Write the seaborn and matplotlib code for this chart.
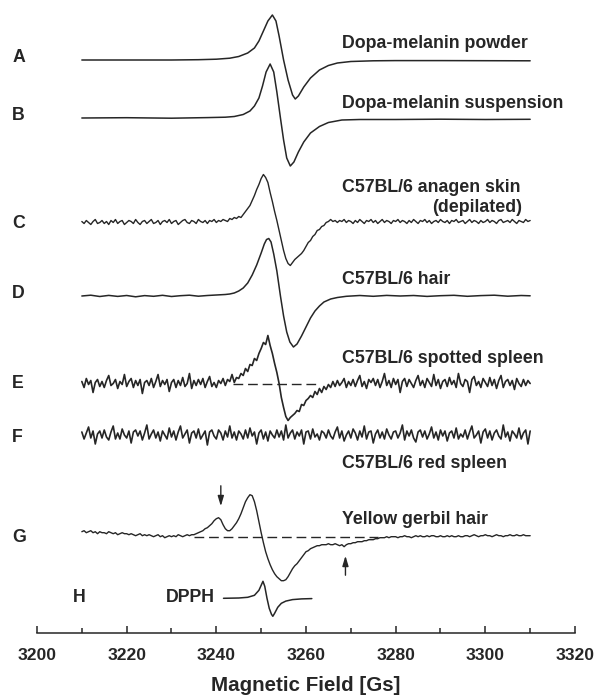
import numpy as np
import matplotlib
matplotlib.use("Agg")
import matplotlib.pyplot as plt
import seaborn as sns

# ---- data (signal amplitudes, arbitrary units) ----
field_start, field_stop = 3210, 3310

a_field = [3210, 3220, 3230, 3236, 3240, 3243, 3245, 3247, 3248.5, 3249.5,
           3250.5, 3251.5, 3252.5, 3253.3, 3254, 3255, 3256, 3257, 3257.6, 3258.3,
           3259.5, 3261, 3263, 3265, 3267, 3270, 3275, 3280, 3290, 3300, 3310]
a_signal = [0, 0, 0, 0.3, 0.8, 1.8, 3.5, 7, 12, 19,
            29, 39, 45, 39, 24, 0, -20, -35, -39, -36,
            -27, -18, -10, -5.5, -3, -1.5, -0.8, -0.6, -0.6, -0.7, -0.8]

b_field = [3210, 3220, 3230, 3238, 3242, 3244, 3246, 3247.5, 3248.5, 3249.5,
           3250.3, 3251.1, 3252, 3252.8, 3253.5, 3254.3, 3255, 3255.7, 3256.5, 3257.3,
           3258.3, 3259.5, 3261, 3263, 3265, 3268, 3272, 3280, 3290, 3300, 3310]
b_signal = [0, 0.3, -0.2, 0.4, 0.8, 1.5, 3.5, 7, 12, 20,
            32, 46, 54, 46, 26, 0, -22, -40, -48, -44,
            -34, -24, -15, -8.5, -4.5, -2, -1.5, -1.5, -1.2, -1.5, -1.3]

# anagen skin, sampled every 0.5 Gs from 3210 to 3310
c_signal = [1, -1, 2, 0, -2, 1, 3, -1, 0, 2,
            -1, 1, -2, 2, 0, 3, -1, 1, 2, -2,
            0, 2, 1, -1, 3, 0, -2, 1, 2, -1,
            1, 3, -1, 0, 2, -2, 1, 2, 0, 3,
            -1, 1, 2, -2, 0, 2, 3, 0, -1, 2,
            1, -1, 3, 1, 0, 2, -1, 2, 1, 3,
            0, 2, 1, 3, 2, 1, 4, 3, 5, 4,
            6, 5, 8, 11, 14, 17, 22, 27, 33, 38,
            44, 48, 45, 40, 30, 21, 11, 2, -8, -18,
            -28, -36, -41, -43, -40, -37, -35, -33, -31, -28,
            -24, -20, -18, -14, -12, -8, -7, -4, -3, 0,
            1, 3, 1, 2, 0, 2, 1, 3, 0, 2,
            1, -1, 2, 0, 3, 1, -1, 2, 1, 3,
            0, 2, -1, 1, 3, 0, 2, 1, -1, 2,
            1, 3, 0, 2, 1, -1, 2, 0, 3, 1,
            -1, 2, 1, 3, 0, 2, -1, 1, 2, 0,
            3, 1, 0, 2, -1, 2, 1, 3, 0, 1,
            2, -1, 1, 3, 0, 2, 1, -1, 2, 0,
            1, 3, 0, 2, 1, -1, 2, 3, 0, 1,
            2, 0, 3, 1, -1, 2, 1, 0, 3, 1,
            2]

d_field = [3210, 3212, 3214, 3216, 3218, 3220, 3222, 3224, 3226, 3228,
           3230, 3232, 3234, 3236, 3238, 3240, 3242, 3243, 3244, 3245,
           3246, 3247, 3248, 3249, 3250, 3250.7, 3251.2, 3251.7, 3252.2, 3252.8,
           3253.5, 3254.3, 3255, 3255.7, 3256.4, 3257.2, 3258, 3259, 3260, 3261,
           3262, 3263, 3264, 3265.5, 3267, 3269, 3272, 3275, 3278, 3281,
           3284, 3287, 3290, 3293, 3296, 3299, 3302, 3305, 3308, 3310]
d_signal = [0, 0.8, -0.5, 0.6, -0.4, 0.5, -0.8, 0.4, -0.3, 0.7,
            -0.5, 0.3, 0.8, -0.2, 0.5, 1, 1.5, 2, 3, 5,
            8, 13, 21, 31, 43, 52, 56.5, 57.5, 54, 42,
            25, 0, -20, -36, -46, -51, -48, -40, -31, -22,
            -15, -10, -6, -3, -1.5, -0.3, 0.5, -0.3, 0.6, 0,
            0.5, -0.4, 0.3, 0.7, -0.3, 0.4, 0.8, -0.2, 0.5, 0.2]

# spotted spleen, every 0.5 Gs
e_signal = [2, -4, 5, -1, 3, -9, 1, 4, -3, 2,
            -4, 3, 8, -2, 0, 4, -5, 2, -1, 9,
            -3, 2, 5, -4, 3, -2, 4, -10, 1, 3,
            -2, 5, -4, 2, 9, -3, 3, -1, 4, -8,
            1, 4, -4, 3, -2, 6, -3, 0, 10, -5,
            3, -2, 4, -1, 5, -4, 2, 7, -3, 1,
            -4, 3, 0, 5, -2, 4, 2, 9, 1, 6,
            5, 10, 8, 15, 12, 19, 18, 25, 23, 30,
            35, 41, 39, 48, 38, 30, 20, 11, 0, -14,
            -24, -33, -37, -34, -32, -30, -27, -28, -21, -22,
            -17, -15, -12, -14, -8, -11, -5, -9, -3, -6,
            -1, -4, 2, -3, 3, -2, 1, 5, -4, 2,
            -2, 4, -3, 3, 8, -3, 2, -5, 4, 1,
            5, -2, 4, -4, 2, 10, -2, 3, -4, 5,
            -1, 4, -9, 2, 5, -3, 4, 0, -4, 3,
            8, -2, 3, -4, 5, 1, -3, 9, -2, 4,
            -5, 2, 4, -3, 6, -1, 3, -4, 10, 0,
            -3, 4, 2, -9, 4, 7, -2, 2, -4, 5,
            1, -3, 6, -2, 4, -5, 3, 8, -4, 2,
            4, -2, 3, -6, 5, 0, -3, 4, -2, 3,
            0]

# red spleen, every 0.5 Gs
f_signal = [3, -4, 2, 8, -3, 4, -9, 1, 4, -3,
            5, -2, -5, 3, 9, -4, 2, -4, 6, 0,
            -3, 4, -8, 3, 5, -1, 4, -5, 2, 10,
            -4, 1, 5, -3, 3, -6, 4, 0, -4, 7,
            -2, 4, -5, 3, 9, -3, 1, 5, -8, 2,
            4, -3, 6, -4, 0, 4, -10, 3, 5, -1,
            -4, 5, 2, -5, 4, -2, 9, -3, 3, -5,
            4, 1, -4, 5, -3, 7, -1, 3, -9, 2,
            5, -4, 3, -6, 4, 0, -3, 5, -2, 4,
            -5, 10, -3, 2, 5, -4, 3, -1, 5, -9,
            3, 4, -4, 6, -2, 1, -5, 4, 2, -3,
            5, -1, -4, 3, 8, -3, 4, -6, 0, 4,
            -3, 6, 2, -5, 4, -2, 9, -4, 3, 4,
            -8, 1, 5, -3, 3, -4, 6, 0, -4, 3,
            4, -3, 2, 10, -5, 4, -1, 5, -3, -7,
            3, 5, -2, 4, -4, 1, 8, -3, 3, -5,
            5, -1, 4, -6, 2, 4, -3, 7, -4, 1,
            -2, 5, -4, 3, 9, -3, 0, 4, -8, 3,
            6, -3, 4, -5, 2, 5, -1, -4, 10, -2,
            3, -6, 4, 1, -3, 7, -4, 2, 5, -9,
            4]

# yellow gerbil hair, every 0.5 Gs
g_signal = [5, 6, 4, 5, 6, 4, 5, 3, 5, 4,
            4, 3, 5, 4, 3, 4, 2, 3, 4, 3,
            3, 2, 3, 2, 1, 2, 3, 1, 2, 1,
            2, 1, 0, 1, 2, 0, 1, -1, 0, 1,
            0, 1, 0, 2, 1, 0, 1, 2, 1, 2,
            2, 3, 4, 5, 6, 8, 9, 11, 13, 16,
            18, 19, 17, 12, 8, 6, 6, 8, 11, 14,
            18, 23, 29, 35, 39, 42, 41, 35, 26, 15,
            4, -6, -15, -22, -28, -33, -37, -40, -42, -44,
            -44, -43, -40, -36, -32, -29, -27, -24, -21, -18,
            -15, -14, -12, -11, -10, -9, -9, -8, -8, -8,
            -7, -8, -8, -7, -8, -9, -8, -10, -8, -7,
            -7, -6, -6, -5, -5, -5, -4, -4, -3, -3,
            -3, -2, -2, -1, -1, -1, 0, -1, 0, 0,
            0, -1, 0, 0, 1, 0, 0, -1, 0, 1,
            0, 1, 0, 0, 1, 0, 1, 1, 0, 0,
            1, 0, 0, 1, 0, 1, 0, 0, 1, 0,
            0, 1, 1, 0, 1, 2, 1, 0, 1, 1,
            2, 1, 1, 0, 1, 2, 1, 1, 0, 1,
            1, 2, 1, 1, 2, 1, 1, 2, 1, 1,
            1]

h_field = [3241.6, 3245, 3247, 3248.5, 3249.5, 3250, 3250.4, 3250.8, 3251.3, 3251.8,
           3252.3, 3252.6, 3253, 3253.7, 3254.5, 3255.5, 3257, 3259, 3261.3]
h_signal = [0, 0.3, 1, 3, 8, 13, 17, 12, 0, -10,
            -16, -18, -15, -9, -5, -2.8, -1.3, -0.6, -0.3]

letters = ["A", "B", "C", "D", "E", "F", "G", "H"]
sample_names = ["Dopa-melanin powder", "Dopa-melanin suspension",
                "C57BL/6 anagen skin", "C57BL/6 hair",
                "C57BL/6 spotted spleen", "C57BL/6 red spleen",
                "Yellow gerbil hair", "DPPH"]
e_dash = [3243.8, 3262.8]
g_dash = [3235, 3276]
g_arrows = [3241, 3268.8]
x_ticks = [3200, 3220, 3240, 3260, 3280, 3300, 3320]

# ---- layout (vertical offsets of the stacked spectra) ----
offsets = {"A": 573, "B": 515, "C": 410.5, "D": 337, "E": 249.5,
           "F": 198, "G": 96.3, "H": 34.7}

sns.set_theme(style="white")
plt.rcParams["font.family"] = ["Liberation Sans", "DejaVu Sans"]
ink = "#262626"

fig = plt.figure(figsize=(5.95, 6.99), dpi=100)
ax = fig.add_axes([37 / 595, 66 / 699, 538 / 595, 633 / 699])

def uniform(vals):
    return np.linspace(field_start, field_stop, len(vals))

traces = [("A", a_field, a_signal, 1.1), ("B", b_field, b_signal, 1.1),
          ("C", uniform(c_signal), c_signal, 1.0), ("D", d_field, d_signal, 1.1),
          ("E", uniform(e_signal), e_signal, 1.2), ("F", uniform(f_signal), f_signal, 1.2),
          ("G", uniform(g_signal), g_signal, 1.0), ("H", h_field, h_signal, 1.1)]
for key, xs, ys, lw in traces:
    sns.lineplot(x=np.asarray(xs, float), y=np.asarray(ys, float) + offsets[key],
                 ax=ax, color=ink, lw=lw, estimator=None, sort=False)

dash_kw = dict(color=ink, lw=1.0, linestyles=(0, (7, 3.5)))
ax.hlines(offsets["E"], e_dash[0], e_dash[1], **dash_kw)
ax.hlines(offsets["G"], g_dash[0], g_dash[1], **dash_kw)

arrow_kw = dict(arrowstyle="-|>,head_length=0.5,head_width=0.15", color=ink, lw=1.0)
ax.annotate("", xy=(g_arrows[0], 124), xytext=(g_arrows[0], 150), arrowprops=arrow_kw)
ax.annotate("", xy=(g_arrows[1], 80), xytext=(g_arrows[1], 55), arrowprops=arrow_kw)

# letter labels
fs = 12.8
letter_y = [576, 518, 409, 340, 250, 195, 96, 36]
for lab, ly in zip(letters[:-1], letter_y[:-1]):
    ax.text(3194.5, ly, lab, ha="left", va="center", fontsize=fs,
            fontweight="bold", color=ink)
ax.text(3209.4, letter_y[-1], letters[-1], ha="center", va="center", fontsize=fs,
        fontweight="bold", color=ink)

name_y = [590, 530, 446, 353, 274.5, 169, 114]
for name, ny in zip(sample_names[:-1], name_y):
    ax.text(3268.0, ny, name, ha="left", va="center", fontsize=fs,
            fontweight="bold", color=ink)
ax.text(3308.3, 426, "(depilated)", ha="right", va="center", fontsize=fs,
        fontweight="bold", color=ink)
ax.text(3239.6, 35, sample_names[-1], ha="right", va="center", fontsize=fs,
        fontweight="bold", color=ink)

ax.set_xlim(3200, 3320)
ax.set_ylim(0, 633)
ax.set_xticks(x_ticks)
ax.set_xticks(np.arange(3210, 3320, 20), minor=True)
ax.set_yticks([])
ax.tick_params(axis="x", which="major", direction="in", length=5, width=1.1,
               color=ink, labelsize=12.6, labelcolor=ink, pad=10.5, bottom=True)
ax.tick_params(axis="x", which="minor", direction="in", length=3.5, width=1.1,
               color=ink, bottom=True)
for lbl in ax.get_xticklabels():
    lbl.set_fontweight("bold")
ax.set_xlabel("Magnetic Field [Gs]", fontsize=14.8, fontweight="bold",
              color=ink, labelpad=10)
sns.despine(ax=ax, left=True)
ax.spines["bottom"].set_color(ink)
ax.spines["bottom"].set_linewidth(1.1)

fig.savefig("out.png", dpi=100)
